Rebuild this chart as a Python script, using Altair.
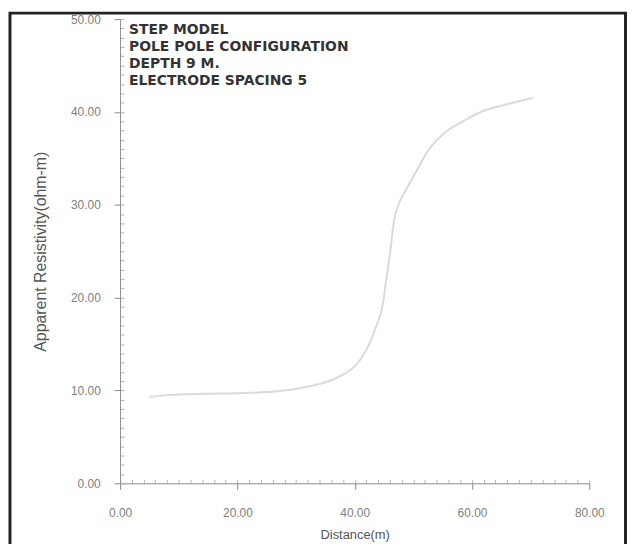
import altair as alt
import pandas as pd

# Curve
distance = [5, 8, 12, 16, 20, 24, 28, 31, 34, 36, 38, 40, 42, 43.5, 44.7, 45.3,
            45.8, 46.3, 46.8, 47.7, 48.9, 50.6, 52.8, 55.6, 58.5, 61.9, 65.8, 70.4]
resistivity = [9.3, 9.5, 9.6, 9.65, 9.7, 9.8, 10.0, 10.3, 10.7, 11.1, 11.7, 12.6,
               14.4, 16.6, 19.0, 21.6, 23.7, 26.2, 28.6, 30.4, 31.8, 33.7, 36.1,
               37.9, 39.0, 40.1, 40.8, 41.5]

x_major = [0, 20, 40, 60, 80]
y_major = [0, 10, 20, 30, 40, 50]
x_minor = list(range(0, 81, 2))
y_minor = list(range(0, 51, 1))

header_lines = ["STEP MODEL", "POLE POLE CONFIGURATION", "DEPTH 9 M.",
                "ELECTRODE SPACING  5"]

df = pd.DataFrame({"Distance": distance, "Rho": resistivity})

W, H = 473, 468
FONT = "Liberation Sans"
AX = "#8a8a8a"

xscale = alt.Scale(domain=[0, 80], nice=False, zero=False)
yscale = alt.Scale(domain=[0, 50], nice=False, zero=False)

line = alt.Chart(df).mark_line(color="#dadada", strokeWidth=2, interpolate="catmull-rom").encode(
    x=alt.X("Distance:Q", scale=xscale,
            axis=alt.Axis(values=x_major, format=".2f", title="Distance(m)",
                          grid=False, tickSize=6, labelPadding=18, titlePadding=11,
                          domainColor=AX, tickColor=AX, labelColor="#808080",
                          labelFont=FONT, labelFontSize=12, titleFont=FONT,
                          titleFontSize=13, titleFontWeight="normal",
                          titleColor="#555555", labelFlush=False)),
    y=alt.Y("Rho:Q", scale=yscale,
            axis=alt.Axis(values=y_major, format=".2f",
                          title="Apparent Resistivity(ohm-m)",
                          grid=False, tickSize=6, labelPadding=14, titlePadding=22,
                          domainColor=AX, tickColor=AX, labelColor="#808080",
                          labelFont=FONT, labelFontSize=12, titleFont=FONT,
                          titleFontSize=16, titleFontWeight="normal",
                          titleColor="#555555")),
)

minor = alt.Chart(df).mark_line(opacity=0).encode(
    x=alt.X("Distance:Q", scale=xscale,
            axis=alt.Axis(orient="top", offset=-H, values=x_minor, labels=False,
                          domain=False, grid=False, tickSize=4, tickColor="#b5b5b5",
                          title=None)),
    y=alt.Y("Rho:Q", scale=yscale,
            axis=alt.Axis(orient="right", offset=-W, values=y_minor, labels=False,
                          domain=False, grid=False, tickSize=4, tickColor="#b5b5b5",
                          title=None)),
)

one = pd.DataFrame({"a": [0]})

header = alt.Chart(one).mark_text(
    align="left", baseline="top", font="DejaVu Sans", fontSize=14, fontWeight="bold",
    color="#333333", lineHeight=17,
).encode(x=alt.value(9), y=alt.value(4), text=alt.value(header_lines))

frame = alt.Chart(one).mark_rect(
    fill="transparent", stroke="#222222", strokeWidth=3,
).encode(x=alt.value(-111), x2=alt.value(509.5), y=alt.value(-6), y2=alt.value(600))

chart = alt.layer(minor, line, header, frame).resolve_axis(
    x="independent", y="independent"
).properties(
    width=W, height=H,
    autosize=alt.AutoSizeParams(type="none"),
    padding={"left": 113, "top": 9, "right": 38, "bottom": 59},
    background="white",
).configure_view(stroke=None)

chart.save("out.html", embed_options={"renderer": "svg", "actions": False})
